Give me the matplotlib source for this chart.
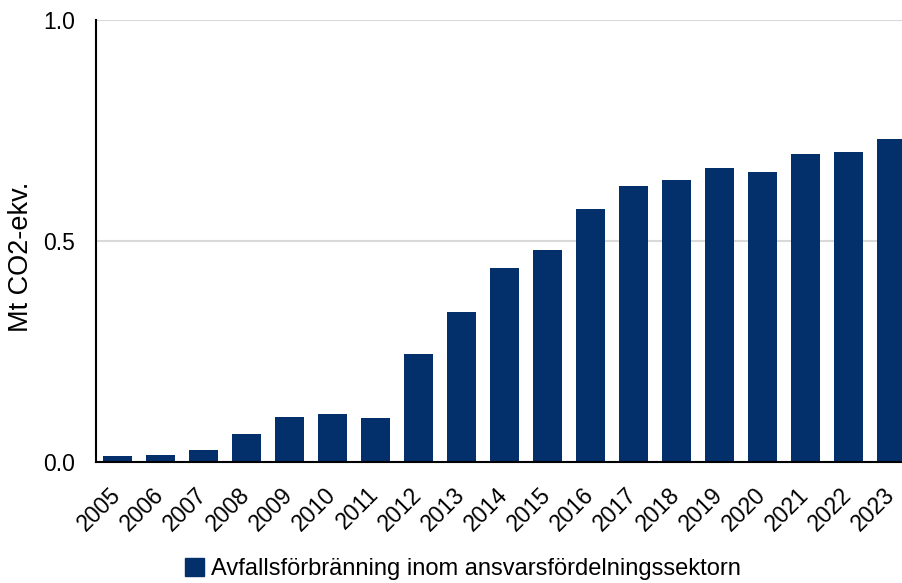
import numpy as np
import matplotlib.pyplot as plt
from matplotlib.patches import Patch

plt.rcParams['font.family'] = ['Liberation Sans', 'DejaVu Sans']

years = ['2005', '2006', '2007', '2008', '2009', '2010', '2011', '2012', '2013', '2014',
         '2015', '2016', '2017', '2018', '2019', '2020', '2021', '2022', '2023']
emissions = [0.014, 0.016, 0.027, 0.063, 0.102, 0.109, 0.100, 0.245, 0.340, 0.440,
             0.480, 0.573, 0.625, 0.637, 0.666, 0.657, 0.696, 0.702, 0.730]
series_name = 'Avfallsförbränning inom ansvarsfördelningssektorn'
bar_color = '#032F6B'

fig = plt.figure(figsize=(9.03, 5.83), dpi=100)
# axes runs slightly past the right edge of the figure
ax = fig.add_axes([96 / 903, 1 - 462 / 583, 817 / 903, 442 / 583])

x = np.arange(len(years))
ax.bar(x, emissions, width=0.67, color=bar_color, zorder=3)

ax.set_xlim(-0.5, len(years) - 0.5)
ax.set_ylim(0, 1.0)
ax.set_yticks([0.0, 0.5, 1.0])
ax.set_yticklabels(['0.0', '0.5', '1.0'])
ax.grid(axis='y', color='#d9d9d9', linewidth=1.5, zorder=0)

ax.set_xticks(x)
ax.set_xticklabels(years, rotation=45, ha='right', va='center', rotation_mode='anchor')
ax.tick_params(axis='x', length=0, pad=21, labelsize=16.5)
ax.tick_params(axis='y', length=0, pad=15, labelsize=16.5)

for side in ['top', 'right']:
    ax.spines[side].set_visible(False)
ax.spines['left'].set_linewidth(1.5)
ax.spines['bottom'].set_linewidth(1.5)
ax.spines['left'].set_zorder(4)
ax.spines['bottom'].set_zorder(4)

fig.text(21 / 903, 1 - 257 / 583, 'Mt CO2-ekv.', rotation=90, fontsize=19.5,
         ha='center', va='center')

fig.legend(handles=[Patch(color=bar_color, label=series_name)],
           loc='lower center', bbox_to_anchor=(0.513, -0.031), frameon=False,
           fontsize=17, handlelength=0.8, handleheight=0.8, handletextpad=0.3)

fig.savefig('out.png', dpi=100)
